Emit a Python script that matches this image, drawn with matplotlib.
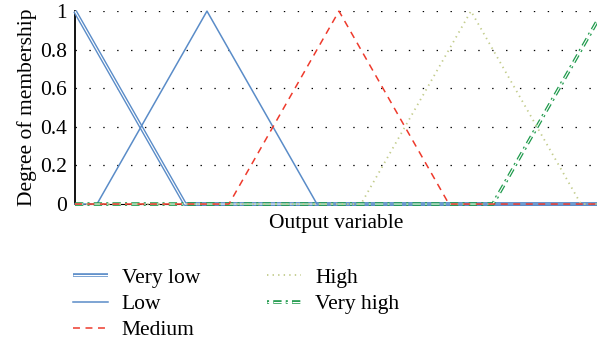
import matplotlib.pyplot as plt
from matplotlib.lines import Line2D
import numpy as np

plt.rcParams['font.family'] = ['Liberation Serif', 'DejaVu Serif']
plt.rcParams['lines.scale_dashes'] = False

# membership functions: breakpoints on the output axis and their degrees
names = ['Very low', 'Low', 'Medium', 'High', 'Very high']
x_very_low = [0, 5, 24]
y_very_low = [1, 0, 0]
x_low = [0, 1, 6, 11, 24]
y_low = [0, 0, 1, 0, 0]
x_medium = [0, 7, 12, 17, 24]
y_medium = [0, 0, 1, 0, 0]
x_high = [0, 13, 18, 23, 24]
y_high = [0, 0, 1, 0, 0]
x_very_high = [0, 19, 24]
y_very_high = [0, 0, 1]
yticks = [0, 0.2, 0.4, 0.6, 0.8, 1]
ytick_labels = ['0', '0.2', '0.4', '0.6', '0.8', '1']

blue = '#5a8cc8'
red = '#ee3a2c'
olive = '#c3cc8c'
green = '#1f9a4c'
fs = 15.5

fig = plt.figure(figsize=(5.97, 3.47), dpi=100)
ax = fig.add_axes([0.1256, 0.412, 0.8744, 0.556])

vh_dash = (0, (6, 3, 1.5, 3))

# double lines: a thick stroke with a thin white core
ax.plot(x_very_low, y_very_low, color=blue, lw=2.8, solid_capstyle='butt', zorder=3, clip_on=False)
ax.plot(x_very_low, y_very_low, color='white', lw=0.8, solid_capstyle='butt', zorder=3, clip_on=False)
ax.plot(x_low, y_low, color=blue, lw=1.1, zorder=3, clip_on=False)
ax.plot(x_very_high, y_very_high, color=green, lw=2.6, linestyle=vh_dash, zorder=4, clip_on=False)
ax.plot(x_very_high, y_very_high, color='white', lw=0.8, linestyle=vh_dash, zorder=4, clip_on=False)
ax.plot(x_high, y_high, color=olive, lw=1.3, linestyle=(0, (1, 3)), zorder=4, clip_on=False)
ax.plot(x_medium, y_medium, color=red, lw=1.1, linestyle=(0, (5, 4)), zorder=5, clip_on=False)

ax.set_xlim(0, 23.73)
ax.set_ylim(0, 1)
ax.set_xticks([])
ax.set_yticks(yticks)
ax.set_yticklabels(ytick_labels)
ax.tick_params(axis='y', length=0, labelsize=fs, pad=6)
ax.grid(axis='y', color='black', linestyle=(0, (1, 9)), lw=0.9)
for s in ['top', 'right']:
    ax.spines[s].set_visible(False)
ax.spines['left'].set_linewidth(1.3)
ax.spines['bottom'].set_linewidth(0.8)
ax.set_xlabel('Output variable', fontsize=fs, labelpad=7)
ax.set_ylabel('Degree of membership', fontsize=fs, labelpad=2)

# legend handles
h_vl = (Line2D([], [], color=blue, lw=2.6, solid_capstyle='butt'),
        Line2D([], [], color='white', lw=0.8, solid_capstyle='butt'))
h_l = Line2D([], [], color=blue, lw=1.1)
h_m = Line2D([], [], color=red, lw=1.1, linestyle=(0, (5, 4)))
h_h = Line2D([], [], color=olive, lw=1.3, linestyle=(0, (1, 3)))
h_vh = (Line2D([], [], color=green, lw=2.6, linestyle=(0, (1.5, 3, 6, 3))),
        Line2D([], [], color='white', lw=0.8, linestyle=(0, (1.5, 3, 6, 3))))
handles = [h_vl, h_l, h_m, h_h, h_vh]
fig.legend(handles, names, loc='upper left', bbox_to_anchor=(0.105, 0.259), ncol=2,
           frameon=False, fontsize=fs, handlelength=1.6, handletextpad=0.65,
           labelspacing=0.28, columnspacing=3.1, borderpad=0)

fig.savefig('out.png', dpi=100)
